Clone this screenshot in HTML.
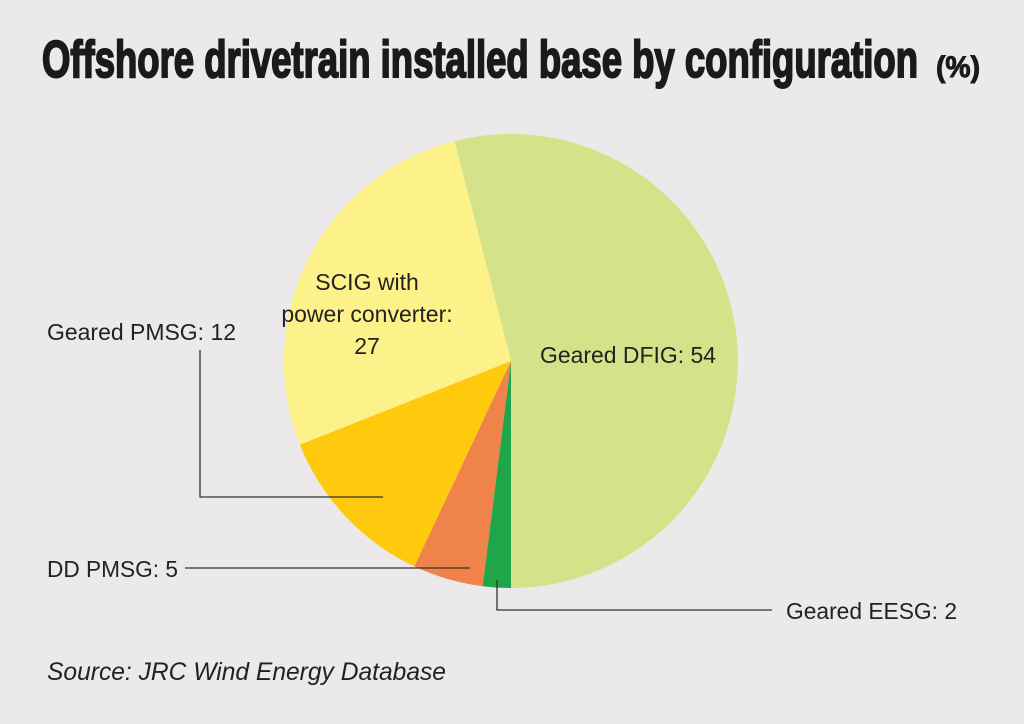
<!DOCTYPE html>
<html><head><style>body{margin:0;background:#ebe9e9}</style></head><body>
<svg width="1024" height="719" viewBox="0 0 1024 719" xmlns="http://www.w3.org/2000/svg">
<rect width="1024" height="719" fill="#ebe9e9"/>
<text x="42" y="77" font-family="Liberation Sans Narrow, Liberation Sans, sans-serif" font-weight="bold" font-size="52" textLength="876" lengthAdjust="spacingAndGlyphs" fill="#1a1a1a" stroke="#1a1a1a" stroke-width="2">Offshore drivetrain installed base by configuration</text>
<text x="936" y="77" font-family="Liberation Sans Narrow, Liberation Sans, sans-serif" font-weight="bold" font-size="30" textLength="44" lengthAdjust="spacingAndGlyphs" fill="#1a1a1a" stroke="#1a1a1a" stroke-width="1">(%)</text>
<g stroke="none">
<path d="M511,361 L454.5,141.1 A227,227 0 1 1 511,588 Z" fill="#d4e38a"/>
<path d="M511,361 L511,588 A227,227 0 0 1 482.6,586.2 Z" fill="#1fa64a"/>
<path d="M511,361 L482.6,586.2 A227,227 0 0 1 414.3,566.4 Z" fill="#f0834a"/>
<path d="M511,361 L414.3,566.4 A227,227 0 0 1 299.9,444.6 Z" fill="#ffc90e"/>
<path d="M511,361 L299.9,444.6 A227,227 0 0 1 454.5,141.1 Z" fill="#fdf28a"/>
</g>
<g stroke="#333" stroke-width="1.3" fill="none">
<polyline points="200,350 200,497 383,497"/>
<polyline points="185,568 470,568"/>
<polyline points="497,580 497,610 772,610"/>
</g>
<g font-family="Liberation Sans Narrow, Liberation Sans, sans-serif" font-size="23" fill="#222">
<text x="47" y="340" textLength="189" lengthAdjust="spacingAndGlyphs">Geared PMSG: 12</text>
<text x="47" y="577" textLength="131" lengthAdjust="spacingAndGlyphs">DD PMSG: 5</text>
<text x="786" y="619" textLength="171" lengthAdjust="spacingAndGlyphs">Geared EESG: 2</text>
<text x="540" y="363" textLength="176" lengthAdjust="spacingAndGlyphs">Geared DFIG: 54</text>
<text x="367" y="290" text-anchor="middle">SCIG with</text>
<text x="367" y="322" text-anchor="middle">power converter:</text>
<text x="367" y="354" text-anchor="middle">27</text>
<text x="47" y="680" font-style="italic" font-size="25" textLength="399" lengthAdjust="spacingAndGlyphs">Source: JRC Wind Energy Database</text>
</g>
</svg>
</body></html>
